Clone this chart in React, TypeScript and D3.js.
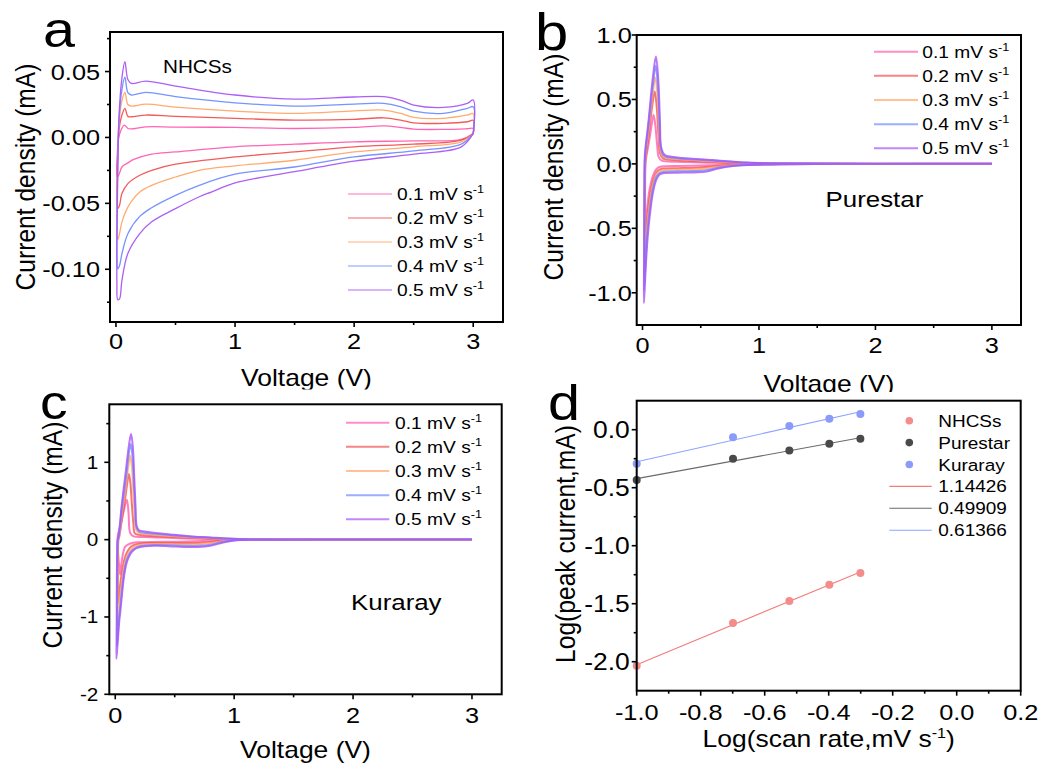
import React from "react";
import * as d3 from "d3";

type Pt = [number, number];

const FONT = "'Liberation Sans', Arial, Helvetica, sans-serif";
const SX = 1.15;

// ---------- shared ----------
const scanRates = ["0.1", "0.2", "0.3", "0.4", "0.5"];
const rateColors = ["#FF5DB1", "#F25252", "#FFA768", "#6F8DFF", "#A856F5"];

const voltageTicks = [0, 1, 2, 3];
const voltageMinor = [0.5, 1.5, 2.5];

// ---------- panel a : NHCSs ----------
const nhcss01: Pt[] = [[3.0,0.003],[2.9,-0.0015],[2.5,-0.0026],[2.0,-0.0033],[1.5,-0.0051],[1.0,-0.0071],[0.5,-0.011],[0.3,-0.0127],[0.15,-0.0167],[0.1,-0.0193],[0.05,-0.0224],[0.03,-0.027],[0.015,-0.030],[0.008,-0.029],[0.01,-0.015],[0.02,-0.002],[0.04,0.005],[0.07,0.0094],[0.1,0.0068],[0.13,0.0065],[0.25,0.0081],[0.5,0.0079],[1.0,0.0076],[1.5,0.0068],[2.0,0.0076],[2.25,0.0088],[2.4,0.0075],[2.5,0.0063],[2.75,0.0061],[2.95,0.0066],[3.0,0.0068],[3.0,0.003]];
const nhcss02: Pt[] = [[3.0,0.003],[2.9,-0.0021],[2.5,-0.0051],[2.0,-0.0071],[1.5,-0.011],[1.0,-0.0148],[0.5,-0.0203],[0.3,-0.0249],[0.2,-0.0287],[0.1,-0.035],[0.05,-0.0426],[0.03,-0.0515],[0.015,-0.054],[0.008,-0.05],[0.012,-0.02],[0.025,0.005],[0.05,0.017],[0.075,0.0221],[0.1,0.016],[0.13,0.0157],[0.25,0.017],[0.5,0.016],[1.0,0.0145],[1.5,0.0132],[2.0,0.0137],[2.25,0.0149],[2.4,0.013],[2.5,0.0111],[2.75,0.0107],[2.95,0.0119],[3.0,0.0129],[3.0,0.003]];
const nhcss03: Pt[] = [[3.0,0.003],[2.9,-0.0033],[2.5,-0.0071],[2.0,-0.011],[1.5,-0.0173],[1.0,-0.0216],[0.7,-0.0249],[0.5,-0.030],[0.3,-0.0363],[0.2,-0.0414],[0.1,-0.0528],[0.05,-0.0642],[0.03,-0.073],[0.015,-0.0776],[0.008,-0.07],[0.012,-0.03],[0.025,0.01],[0.05,0.028],[0.075,0.0342],[0.1,0.025],[0.13,0.0238],[0.25,0.0253],[0.5,0.023],[1.0,0.02],[1.5,0.0183],[2.0,0.0202],[2.25,0.0208],[2.4,0.018],[2.5,0.0152],[2.75,0.0145],[2.95,0.017],[3.0,0.018],[3.0,0.003]];
const nhcss04: Pt[] = [[3.0,0.003],[2.9,-0.0051],[2.5,-0.0102],[2.0,-0.0148],[1.5,-0.0224],[1.0,-0.0279],[0.7,-0.0363],[0.5,-0.0439],[0.3,-0.0533],[0.2,-0.0599],[0.1,-0.073],[0.05,-0.0883],[0.03,-0.0972],[0.015,-0.0997],[0.008,-0.09],[0.012,-0.04],[0.025,0.012],[0.05,0.036],[0.075,0.0457],[0.1,0.034],[0.13,0.0322],[0.25,0.0342],[0.5,0.031],[1.0,0.0263],[1.5,0.0238],[2.0,0.0253],[2.25,0.0259],[2.4,0.023],[2.5,0.02],[2.75,0.0183],[2.95,0.0221],[3.0,0.0233],[3.0,0.003]];
const nhcss05: Pt[] = [[3.0,0.003],[2.9,-0.0071],[2.5,-0.0127],[2.0,-0.018],[1.5,-0.026],[1.0,-0.0345],[0.8,-0.0414],[0.7,-0.045],[0.5,-0.054],[0.3,-0.064],[0.2,-0.073],[0.1,-0.088],[0.05,-0.1086],[0.03,-0.1225],[0.015,-0.123],[0.008,-0.11],[0.012,-0.05],[0.025,0.015],[0.05,0.045],[0.075,0.0575],[0.1,0.044],[0.13,0.041],[0.25,0.0428],[0.5,0.039],[1.0,0.0322],[1.5,0.0291],[2.0,0.0307],[2.25,0.031],[2.4,0.028],[2.5,0.0246],[2.75,0.0228],[2.95,0.0259],[3.0,0.0284],[3.0,0.003]];
const nhcssCV = [nhcss01, nhcss02, nhcss03, nhcss04, nhcss05];
const nhcssYTicks = [-0.1, -0.05, 0, 0.05];
const nhcssYLabels = ["-0.10", "-0.05", "0.00", "0.05"];
const nhcssYMinor = [-0.125, -0.075, -0.025, 0.025, 0.075];

// ---------- panel b : Purestar ----------
const pure01: Pt[] = [[3.0,0.001],[2.0,0.0],[1.2,-0.001],[1.0,-0.002],[0.8,-0.005],[0.65,-0.009],[0.5,-0.013],[0.3,-0.016],[0.2,-0.018],[0.15,-0.022],[0.12,-0.04],[0.09,-0.09],[0.06,-0.2],[0.045,-0.3],[0.032,-0.42],[0.022,-0.52],[0.022,-0.3],[0.024,-0.03],[0.028,0.03],[0.05,0.14],[0.08,0.31],[0.095,0.38],[0.11,0.3],[0.125,0.15],[0.14,0.05],[0.165,0.025],[0.3,0.016],[0.6,0.009],[0.9,0.003],[1.2,0.001],[2.0,0.0],[3.0,0.001]];
const pure02: Pt[] = [[3.0,0.001],[2.0,0.001],[1.2,-0.001],[1.0,-0.003],[0.8,-0.008],[0.65,-0.016],[0.55,-0.024],[0.45,-0.03],[0.3,-0.033],[0.2,-0.035],[0.15,-0.042],[0.12,-0.065],[0.09,-0.13],[0.06,-0.27],[0.042,-0.41],[0.03,-0.56],[0.018,-0.72],[0.02,-0.42],[0.022,-0.05],[0.026,0.04],[0.05,0.2],[0.085,0.46],[0.105,0.561],[0.122,0.44],[0.137,0.22],[0.15,0.085],[0.175,0.043],[0.3,0.029],[0.6,0.016],[0.9,0.005],[1.2,0.002],[2.0,0.001],[3.0,0.001]];
const pure03: Pt[] = [[3.0,0.001],[2.0,0.001],[1.2,-0.002],[1.0,-0.004],[0.8,-0.01],[0.65,-0.022],[0.55,-0.035],[0.45,-0.042],[0.3,-0.045],[0.2,-0.047],[0.15,-0.055],[0.12,-0.08],[0.09,-0.16],[0.06,-0.32],[0.04,-0.48],[0.028,-0.66],[0.016,-0.85],[0.018,-0.5],[0.02,-0.06],[0.024,0.05],[0.05,0.25],[0.088,0.55],[0.11,0.67],[0.128,0.53],[0.143,0.26],[0.155,0.1],[0.18,0.053],[0.3,0.037],[0.6,0.021],[0.9,0.007],[1.2,0.002],[2.0,0.001],[3.0,0.001]];
const pure04: Pt[] = [[3.0,0.002],[2.0,0.001],[1.2,-0.002],[1.0,-0.005],[0.8,-0.013],[0.65,-0.03],[0.55,-0.05],[0.45,-0.056],[0.3,-0.058],[0.2,-0.06],[0.15,-0.07],[0.12,-0.1],[0.09,-0.19],[0.06,-0.37],[0.04,-0.55],[0.026,-0.76],[0.014,-0.98],[0.016,-0.6],[0.018,-0.08],[0.022,0.06],[0.05,0.29],[0.09,0.62],[0.113,0.761],[0.132,0.6],[0.147,0.29],[0.158,0.12],[0.185,0.062],[0.3,0.044],[0.6,0.026],[0.9,0.009],[1.2,0.003],[2.0,0.002],[3.0,0.002]];
const pure05: Pt[] = [[3.0,0.002],[2.0,0.001],[1.2,-0.002],[1.0,-0.006],[0.8,-0.015],[0.65,-0.035],[0.55,-0.06],[0.45,-0.066],[0.3,-0.068],[0.2,-0.07],[0.15,-0.08],[0.12,-0.12],[0.09,-0.22],[0.06,-0.42],[0.04,-0.62],[0.025,-0.85],[0.012,-1.08],[0.014,-0.7],[0.016,-0.1],[0.02,0.07],[0.05,0.32],[0.09,0.68],[0.115,0.833],[0.135,0.66],[0.15,0.32],[0.16,0.13],[0.19,0.07],[0.3,0.05],[0.6,0.03],[0.9,0.01],[1.2,0.004],[2.0,0.002],[3.0,0.002]];
const purestarCV = [pure01, pure02, pure03, pure04, pure05];
const pureYTicks = [-1, -0.5, 0, 0.5, 1];
const pureYLabels = ["-1.0", "-0.5", "0.0", "0.5", "1.0"];
const pureYMinor = [-0.75, -0.25, 0.25, 0.75];

// ---------- panel c : Kuraray ----------
const kura01: Pt[] = [[3.0,0.001],[2.0,0.0],[1.2,-0.002],[1.0,-0.004],[0.8,-0.015],[0.6,-0.025],[0.45,-0.028],[0.3,-0.03],[0.2,-0.034],[0.15,-0.04],[0.11,-0.06],[0.084,-0.09],[0.07,-0.15],[0.056,-0.26],[0.048,-0.36],[0.042,-0.45],[0.035,-0.36],[0.028,-0.26],[0.022,-0.1],[0.02,0.0],[0.022,0.065],[0.042,0.17],[0.07,0.36],[0.098,0.517],[0.112,0.34],[0.126,0.086],[0.155,0.043],[0.25,0.034],[0.4,0.026],[0.6,0.016],[0.8,0.008],[1.0,0.003],[1.5,0.001],[2.0,0.001],[3.0,0.001]];
const kura02: Pt[] = [[3.0,0.002],[2.0,0.001],[1.2,-0.002],[1.0,-0.005],[0.9,-0.012],[0.8,-0.03],[0.7,-0.042],[0.6,-0.045],[0.45,-0.043],[0.34,-0.042],[0.25,-0.045],[0.18,-0.06],[0.15,-0.075],[0.126,-0.1],[0.1,-0.16],[0.084,-0.22],[0.07,-0.3],[0.056,-0.42],[0.045,-0.54],[0.035,-0.67],[0.025,-0.82],[0.022,-0.5],[0.024,-0.1],[0.027,0.0],[0.034,0.04],[0.06,0.3],[0.085,0.55],[0.102,0.74],[0.115,0.85],[0.128,0.72],[0.14,0.45],[0.152,0.22],[0.165,0.08],[0.2,0.062],[0.25,0.055],[0.34,0.045],[0.5,0.033],[0.62,0.024],[0.8,0.013],[0.95,0.006],[1.1,0.002],[1.5,0.001],[2.0,0.001],[3.0,0.002]];
const kura03: Pt[] = [[3.0,0.002],[2.0,0.001],[1.2,-0.002],[1.0,-0.006],[0.9,-0.02],[0.8,-0.045],[0.7,-0.06],[0.6,-0.062],[0.45,-0.058],[0.34,-0.056],[0.25,-0.06],[0.18,-0.08],[0.15,-0.1],[0.126,-0.14],[0.1,-0.21],[0.084,-0.29],[0.07,-0.4],[0.056,-0.55],[0.045,-0.7],[0.034,-0.85],[0.025,-1.0],[0.018,-1.12],[0.018,-0.8],[0.02,-0.2],[0.024,0.0],[0.032,0.045],[0.06,0.38],[0.09,0.7],[0.11,0.95],[0.125,1.087],[0.14,0.95],[0.152,0.62],[0.163,0.33],[0.175,0.13],[0.2,0.085],[0.25,0.072],[0.34,0.06],[0.5,0.044],[0.62,0.032],[0.8,0.018],[0.95,0.009],[1.1,0.003],[1.5,0.001],[2.0,0.001],[3.0,0.002]];
const kura04: Pt[] = [[3.0,0.002],[2.0,0.001],[1.2,-0.002],[1.0,-0.008],[0.9,-0.03],[0.8,-0.065],[0.7,-0.08],[0.6,-0.08],[0.45,-0.072],[0.34,-0.07],[0.25,-0.075],[0.18,-0.1],[0.15,-0.13],[0.126,-0.17],[0.1,-0.25],[0.084,-0.34],[0.07,-0.47],[0.056,-0.65],[0.045,-0.82],[0.034,-0.98],[0.024,-1.18],[0.014,-1.38],[0.015,-1.0],[0.017,-0.3],[0.022,0.0],[0.03,0.05],[0.058,0.43],[0.09,0.8],[0.113,1.1],[0.13,1.238],[0.145,1.08],[0.157,0.72],[0.168,0.4],[0.178,0.16],[0.2,0.105],[0.25,0.09],[0.34,0.075],[0.5,0.054],[0.62,0.04],[0.8,0.024],[0.95,0.012],[1.1,0.004],[1.5,0.002],[2.0,0.002],[3.0,0.002]];
const kura05: Pt[] = [[3.0,0.002],[2.0,0.001],[1.2,-0.002],[1.0,-0.01],[0.9,-0.04],[0.8,-0.08],[0.7,-0.095],[0.6,-0.095],[0.45,-0.085],[0.34,-0.08],[0.25,-0.085],[0.18,-0.11],[0.15,-0.14],[0.126,-0.19],[0.1,-0.28],[0.084,-0.38],[0.07,-0.52],[0.056,-0.72],[0.045,-0.9],[0.034,-1.05],[0.022,-1.3],[0.01,-1.54],[0.012,-1.2],[0.014,-0.4],[0.02,0.0],[0.028,0.05],[0.056,0.47],[0.09,0.9],[0.115,1.22],[0.133,1.367],[0.148,1.2],[0.16,0.8],[0.17,0.45],[0.18,0.18],[0.2,0.12],[0.25,0.105],[0.34,0.086],[0.5,0.062],[0.62,0.045],[0.8,0.028],[0.95,0.014],[1.1,0.005],[1.5,0.002],[2.0,0.002],[3.0,0.002]];
const kurarayCV = [kura01, kura02, kura03, kura04, kura05];
const kuraYTicks = [-2, -1, 0, 1];
const kuraYLabels = ["-2", "-1", "0", "1"];
const kuraYMinor = [-1.5, -0.5, 0.5, 1.5];

// ---------- panel d : log(peak) vs log(scan rate) ----------
const logScanRate = [-1.0, -0.699, -0.523, -0.398, -0.301];
const nhcssLogPeak = [-2.035, -1.667, -1.477, -1.336, -1.235];
const purestarLogPeak = [-0.434, -0.25, -0.179, -0.121, -0.078];
const kurarayLogPeak = [-0.294, -0.066, 0.032, 0.095, 0.136];
const sampleNames = ["NHCSs", "Purestar", "Kuraray"];
const sampleColors = ["#F58C8C", "#4A4A4A", "#8A9BFA"];
const fitColors = ["#F47C7C", "#6A6A6A", "#8FA2FF"];
const slopeLabels = ["1.14426", "0.49909", "0.61366"];
const dXTicks = [-1.0, -0.8, -0.6, -0.4, -0.2, 0.0, 0.2];
const dXLabels = ["-1.0", "-0.8", "-0.6", "-0.4", "-0.2", "0.0", "0.2"];
const dXMinor = [-0.9, -0.7, -0.5, -0.3, -0.1, 0.1];
const dYTicks = [-2.0, -1.5, -1.0, -0.5, 0.0];
const dYLabels = ["-2.0", "-1.5", "-1.0", "-0.5", "0.0"];
const dYMinor = [-1.75, -1.25, -0.75, -0.25];

// ---------- helpers ----------
function T(props: {
  x: number; y: number; size: number; anchor?: string; rotate?: boolean;
  weight?: string; children: React.ReactNode;
}) {
  const { x, y, size, anchor = "start", rotate = false, weight = "normal", children } = props;
  const tr = rotate
    ? `translate(${x},${y}) rotate(-90) scale(1,${SX})`
    : `translate(${x},${y}) scale(${SX},1)`;
  return (
    <text transform={tr} fontSize={size} textAnchor={anchor as any} fontFamily={FONT} fontWeight={weight} fill="#000">
      {children}
    </text>
  );
}

type AxesProps = {
  x: d3.ScaleLinear<number, number>;
  y: d3.ScaleLinear<number, number>;
  xTicks: number[]; xLabels: string[]; xMinor: number[];
  yTicks: number[]; yLabels: string[]; yMinor: number[];
  xFont: number; yFont: number; xLabelBase: number; yLabelGap: number; yLabelDy: number;
};

function Axes(p: AxesProps) {
  const [x0, x1] = p.x.range();
  const [yb, yt] = p.y.range();
  return (
    <g>
      <rect x={x0} y={yt} width={x1 - x0} height={yb - yt} fill="none" stroke="#000" strokeWidth={2} />
      {p.yTicks.map((t, i) => (
        <g key={"yt" + i}>
          <line x1={x0} x2={x0 - 5} y1={p.y(t)} y2={p.y(t)} stroke="#000" strokeWidth={1.6} />
          <T x={x0 - p.yLabelGap} y={p.y(t) + p.yLabelDy} size={p.yFont} anchor="end">{p.yLabels[i]}</T>
        </g>
      ))}
      {p.yMinor.map((t, i) => (
        <line key={"ym" + i} x1={x0} x2={x0 - 3} y1={p.y(t)} y2={p.y(t)} stroke="#000" strokeWidth={1.6} />
      ))}
      {p.xTicks.map((t, i) => (
        <g key={"xt" + i}>
          <line x1={p.x(t)} x2={p.x(t)} y1={yb} y2={yb + 5} stroke="#000" strokeWidth={1.6} />
          <T x={p.x(t)} y={p.xLabelBase} size={p.xFont} anchor="middle">{p.xLabels[i]}</T>
        </g>
      ))}
      {p.xMinor.map((t, i) => (
        <line key={"xm" + i} x1={p.x(t)} x2={p.x(t)} y1={yb} y2={yb + 3} stroke="#000" strokeWidth={1.6} />
      ))}
    </g>
  );
}

function Curves(props: { data: Pt[][]; x: d3.ScaleLinear<number, number>; y: d3.ScaleLinear<number, number>; width: number; opacity: number }) {
  const gen = d3.line<Pt>().x((d) => props.x(d[0])).y((d) => props.y(d[1])).curve(d3.curveCatmullRom.alpha(0.5));
  return (
    <g>
      {props.data.map((c, i) => (
        <path key={i} d={gen(c) || ""} fill="none" stroke={rateColors[i]} strokeWidth={props.width} strokeOpacity={props.opacity} strokeLinejoin="round" />
      ))}
    </g>
  );
}

function RateLegend(props: { lx0: number; lx1: number; tx: number; y0: number; step: number; width: number; opacity: number }) {
  return (
    <g>
      {scanRates.map((r, i) => {
        const yy = props.y0 + i * props.step;
        return (
          <g key={i}>
            <line x1={props.lx0} x2={props.lx1} y1={yy} y2={yy} stroke={rateColors[i]} strokeWidth={props.width} strokeOpacity={props.opacity} />
            <T x={props.tx} y={yy + 6} size={16.7}>
              {r + " mV s"}
              <tspan dy={-7} fontSize={11}>-1</tspan>
            </T>
          </g>
        );
      })}
    </g>
  );
}

function fitLine(xs: number[], ys: number[]) {
  const mx = d3.mean(xs) as number;
  const my = d3.mean(ys) as number;
  const sxy = d3.sum(xs, (v, i) => (v - mx) * (ys[i] - my));
  const sxx = d3.sum(xs, (v) => (v - mx) * (v - mx));
  const slope = sxy / sxx;
  return { slope, intercept: my - slope * mx };
}

export default function App() {
  // panel scales
  const axA = d3.scaleLinear().domain([-0.05, 3.25]).range([110, 503]);
  const ayA = d3.scaleLinear().domain([-0.14, 0.08]).range([322, 32]);
  const axB = d3.scaleLinear().domain([-0.05, 3.25]).range([636.7, 1021]);
  const ayB = d3.scaleLinear().domain([-1.25, 1.0]).range([325, 35]);
  const axC = d3.scaleLinear().domain([-0.05, 3.25]).range([109.3, 501.7]);
  const ayC = d3.scaleLinear().domain([-2, 1.75]).range([694.3, 404.3]);
  const axD = d3.scaleLinear().domain([-1.0, 0.2]).range([636.7, 1020.7]);
  const ayD = d3.scaleLinear().domain([-2.25, 0.25]).range([690.7, 400.7]);

  const vLabels = voltageTicks.map((v) => String(v));
  const dSeries = [nhcssLogPeak, purestarLogPeak, kurarayLogPeak];
  const xFirst = logScanRate[0];
  const xLast = logScanRate[logScanRate.length - 1];

  return (
    <svg width={1054} height={764} style={{ position: "absolute", left: 0, top: 0, background: "#fff" }}>
      <rect x={0} y={0} width={1054} height={764} fill="#fff" />

      {/* ---------- panel a ---------- */}
      <g>
        <Curves data={nhcssCV} x={axA} y={ayA} width={1.3} opacity={0.95} />
        <Axes x={axA} y={ayA} xTicks={voltageTicks} xLabels={vLabels} xMinor={voltageMinor}
          yTicks={nhcssYTicks} yLabels={nhcssYLabels} yMinor={nhcssYMinor}
          xFont={22} yFont={22} xLabelBase={349} yLabelGap={10} yLabelDy={8} />
        <T x={306.5} y={386} size={23} anchor="middle">Voltage (V)</T>
        <T x={35} y={177} size={24.6} anchor="middle" rotate>Current density (mA)</T>
        <T x={163} y={73} size={18}>NHCSs</T>
        <RateLegend lx0={348} lx1={392} tx={397} y0={194} step={24} width={1.5} opacity={0.6} />
        <T x={43} y={46.5} size={50}>a</T>
      </g>

      {/* ---------- panel b ---------- */}
      <g>
        <Curves data={purestarCV} x={axB} y={ayB} width={2} opacity={0.8} />
        <Axes x={axB} y={ayB} xTicks={voltageTicks} xLabels={vLabels} xMinor={voltageMinor}
          yTicks={pureYTicks} yLabels={pureYLabels} yMinor={pureYMinor}
          xFont={22} yFont={22} xLabelBase={352.5} yLabelGap={5} yLabelDy={8} />
        <T x={828.9} y={391.5} size={23} anchor="middle">Voltage (V)</T>
        <T x={563} y={167} size={24.6} anchor="middle" rotate>Current density (mA)</T>
        <T x={825.5} y={207} size={22.5}>Purestar</T>
        <RateLegend lx0={874} lx1={918} tx={922.3} y0={51.7} step={24.15} width={2} opacity={0.7} />
        <T x={535} y={50} size={52}>b</T>
      </g>

      {/* cut line between rows */}
      <rect x={0} y={389.5} width={527} height={380} fill="#fff" />
      <rect x={527} y={392} width={527} height={380} fill="#fff" />

      {/* ---------- panel c ---------- */}
      <g>
        <Curves data={kurarayCV} x={axC} y={ayC} width={2} opacity={0.8} />
        <Axes x={axC} y={ayC} xTicks={voltageTicks} xLabels={vLabels} xMinor={voltageMinor}
          yTicks={kuraYTicks} yLabels={kuraYLabels} yMinor={kuraYMinor}
          xFont={22} yFont={18} xLabelBase={723.3} yLabelGap={11} yLabelDy={6.5} />
        <T x={305.5} y={758} size={23} anchor="middle">Voltage (V)</T>
        <T x={61.5} y={535} size={24.6} anchor="middle" rotate>Current density (mA)</T>
        <T x={351} y={609.5} size={22.5}>Kuraray</T>
        <RateLegend lx0={346} lx1={389.3} tx={395} y0={422.7} step={24.15} width={2} opacity={0.7} />
        <T x={40} y={418.5} size={48}>c</T>
      </g>

      {/* ---------- panel d ---------- */}
      <g>
        {dSeries.map((ys, si) => {
          const f = fitLine(logScanRate, ys);
          return (
            <line key={"fit" + si} x1={axD(xFirst)} x2={axD(xLast)}
              y1={ayD(f.intercept + f.slope * xFirst)} y2={ayD(f.intercept + f.slope * xLast)}
              stroke={fitColors[si]} strokeWidth={1.1} />
          );
        })}
        {dSeries.map((ys, si) =>
          ys.map((v, i) => (
            <circle key={"pt" + si + "-" + i} cx={axD(logScanRate[i])} cy={ayD(v)} r={4} fill={sampleColors[si]} />
          ))
        )}
        <Axes x={axD} y={ayD} xTicks={dXTicks} xLabels={dXLabels} xMinor={dXMinor}
          yTicks={dYTicks} yLabels={dYLabels} yMinor={dYMinor}
          xFont={22} yFont={23} xLabelBase={720} yLabelGap={7} yLabelDy={8} />
        <T x={828.7} y={747} size={23} anchor="middle">
          {"Log(scan rate,mV s"}
          <tspan dy={-9} fontSize={14}>-1</tspan>
          <tspan dy={9}>)</tspan>
        </T>
        <T x={575} y={544} size={24.6} anchor="middle" rotate>Log(peak current,mA)</T>
        {sampleNames.map((n, i) => {
          const yy = 420.7 + i * 21.9;
          return (
            <g key={"lg" + i}>
              <circle cx={909.3} cy={yy} r={3.8} fill={sampleColors[i]} />
              <T x={938.3} y={yy + 6} size={16.5}>{n}</T>
            </g>
          );
        })}
        {slopeLabels.map((s, i) => {
          const yy = 420.7 + (i + 3) * 21.9;
          return (
            <g key={"ls" + i}>
              <line x1={889.3} x2={931.7} y1={yy} y2={yy} stroke={fitColors[i]} strokeWidth={1.1} />
              <T x={938.3} y={yy + 6} size={16.5}>{s}</T>
            </g>
          );
        })}
        <T x={548} y={420} size={50}>d</T>
      </g>
    </svg>
  );
}
